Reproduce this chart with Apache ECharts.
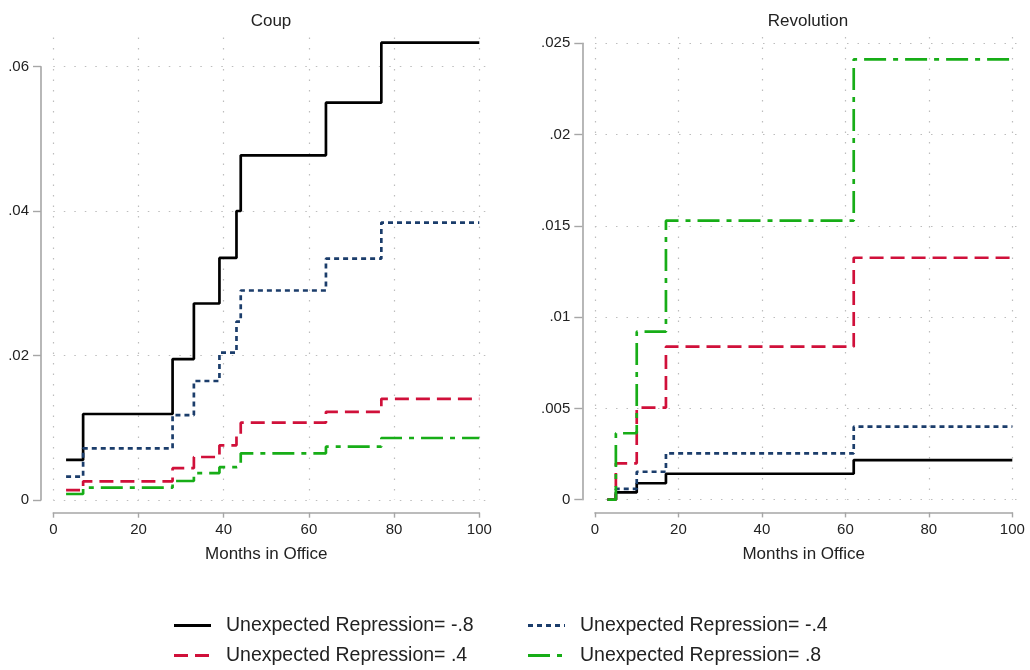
<!DOCTYPE html>
<html>
<head>
<meta charset="utf-8">
<script src="https://cdn.jsdelivr.net/npm/echarts@6/dist/echarts.min.js"></script>
<style>
html,body{margin:0;padding:0;background:#fff;}
#chart{width:1030px;height:670px;}
</style>
</head>
<body>
<div id="chart"></div>
<script>
// ---- Data ----
const seriesNames = ['Unexpected Repression= -.8', 'Unexpected Repression= -.4', 'Unexpected Repression= .4', 'Unexpected Repression= .8'];
const panelTitles = ['Coup', 'Revolution'];
const xAxisName = 'Months in Office';

const coupMonths = [3, 7, 28, 33, 39, 43, 44, 64, 77, 100];
const coupM08 = [0.00554, 0.0119, 0.0195, 0.0272, 0.0335, 0.0400, 0.0477, 0.0550, 0.0633, 0.0633];
const coupM04 = [0.00323, 0.00715, 0.01176, 0.01647, 0.0204, 0.0247, 0.0290, 0.0334, 0.0384, 0.0384];
const coupP04 = [0.00138, 0.00258, 0.00440, 0.00595, 0.00757, 0.0091, 0.0107, 0.0122, 0.0140, 0.0140];
const coupP08 = [0.00083, 0.0017, 0.00263, 0.00372, 0.00455, 0.0047, 0.00646, 0.00738, 0.00858, 0.00858];

const revMonths = [3, 5, 10, 17, 62, 100];
const revM08 = [0, 0.0004, 0.0009, 0.00142, 0.00217, 0.00217];
const revM04 = [0, 0.00059, 0.00153, 0.00254, 0.0040, 0.0040];
const revP04 = [0, 0.00199, 0.00504, 0.00838, 0.01325, 0.01325];
const revP08 = [0, 0.00364, 0.0092, 0.01528, 0.02412, 0.02412];

const xTickLabels = ['0', '20', '40', '60', '80', '100'];
const coupYTickLabels = ['0', '.02', '.04', '.06'];
const revYTickLabels = ['0', '.005', '.01', '.015', '.02', '.025'];

// ---- Styles ----
const styles = [
  {color: '#000000', type: 'solid'},
  {color: '#1b3d6b', type: [5, 4]},
  {color: '#d0103a', type: [14, 7]},
  {color: '#17ad17', type: [22, 7, 5, 7]}
];
const axisGray = '#a6a6a6';
const gridDots = {show: true, lineStyle: {color: '#bdbdbd', width: 1.2, type: [1.5, 9]}};
const baseFont = 'Liberation Sans, Arial, sans-serif';
const tickFont = {fontFamily: baseFont, fontSize: 15, color: '#222'};

function pairs(xs, ys) { return xs.map((x, i) => [x, ys[i]]); }

const coupSets = [coupM08, coupM04, coupP04, coupP08];
const revSets = [revM08, revM04, revP04, revP08];

const series = [];
[[coupSets, coupMonths, 0], [revSets, revMonths, 2]].forEach(([sets, months, axisIdx]) => {
  sets.forEach((ys, i) => {
    series.push({
      name: seriesNames[i], type: 'line', step: 'end', xAxisIndex: axisIdx, yAxisIndex: axisIdx,
      showSymbol: false, symbol: 'none', animation: false, silent: true,
      lineStyle: {color: styles[i].color, width: 2.7, type: styles[i].type},
      itemStyle: {color: styles[i].color},
      data: pairs(months, ys), z: 3 + i
    });
  });
});

function xAxisShown(gridIndex) {
  return {
    gridIndex, type: 'value', min: 0, max: 100, interval: 20, offset: 12.7,
    axisLine: {show: true, onZero: false, lineStyle: {color: axisGray, width: 1.6}},
    axisTick: {show: true, length: 5, lineStyle: {color: axisGray, width: 1.4}},
    axisLabel: Object.assign({margin: 10, formatter: (v) => xTickLabels[Math.round(v / 20)]}, tickFont),
    splitLine: gridDots,
    name: xAxisName, nameLocation: 'middle', nameGap: 33,
    nameTextStyle: {fontFamily: baseFont, fontSize: 17, color: '#222'}
  };
}
function xAxisHidden(gridIndex) {
  return {gridIndex, type: 'value', min: 0, max: 100, show: false, splitLine: {show: false}};
}
function yAxisHidden(gridIndex, max) {
  return {gridIndex, type: 'value', min: 0, max, show: false, splitLine: {show: false}};
}
function yAxisShown(gridIndex, max, interval, labels, offset) {
  return {
    gridIndex, type: 'value', min: 0, max, interval, offset,
    axisLine: {show: true, onZero: false, lineStyle: {color: axisGray, width: 1.6}},
    axisTick: {show: true, length: 8, lineStyle: {color: axisGray, width: 1.4}},
    axisLabel: Object.assign({margin: 12, formatter: (v) => labels[Math.round(v / interval)]}, tickFont),
    splitLine: gridDots
  };
}

const legendCommon = {
  orient: 'vertical', top: 614.5, padding: 0,
  itemWidth: 37, itemHeight: 14, itemGap: 8, selectedMode: false,
  itemStyle: {opacity: 0},
  lineStyle: {width: 3},
  textStyle: {fontFamily: baseFont, fontSize: 19.5, color: '#222', lineHeight: 22, padding: [0, 0, 0, 10]}
};

const option = {
  backgroundColor: '#ffffff',
  animation: false,
  title: [
    {text: panelTitles[0], left: 266, top: 8, textAlign: 'center',
     textStyle: {fontFamily: baseFont, fontSize: 17, fontWeight: 'normal', color: '#222'}},
    {text: panelTitles[1], left: 803, top: 8, textAlign: 'center',
     textStyle: {fontFamily: baseFont, fontSize: 17, fontWeight: 'normal', color: '#222'}}
  ],
  grid: [
    {left: 53.3, top: 37.6, width: 426, height: 462.4},
    {left: 53.3, top: 66.7, width: 434, height: 433.3},
    {left: 595, top: 37, width: 417.3, height: 462.7},
    {left: 595, top: 43.3, width: 423, height: 456.4}
  ],
  xAxis: [xAxisShown(0), xAxisHidden(1), xAxisShown(2), xAxisHidden(3)],
  yAxis: [
    yAxisHidden(0, 0.064),
    yAxisShown(1, 0.06, 0.02, coupYTickLabels, 12.3),
    yAxisHidden(2, 0.02534),
    yAxisShown(3, 0.025, 0.005, revYTickLabels, 12.7)
  ],
  legend: [
    Object.assign({data: [seriesNames[0], seriesNames[2]], left: 172.5}, legendCommon),
    Object.assign({data: [seriesNames[1], seriesNames[3]], left: 526.5}, legendCommon)
  ],
  series
};

const chart = echarts.init(document.getElementById('chart'), null, {renderer: 'canvas'});
chart.setOption(option);
</script>
</body>
</html>
